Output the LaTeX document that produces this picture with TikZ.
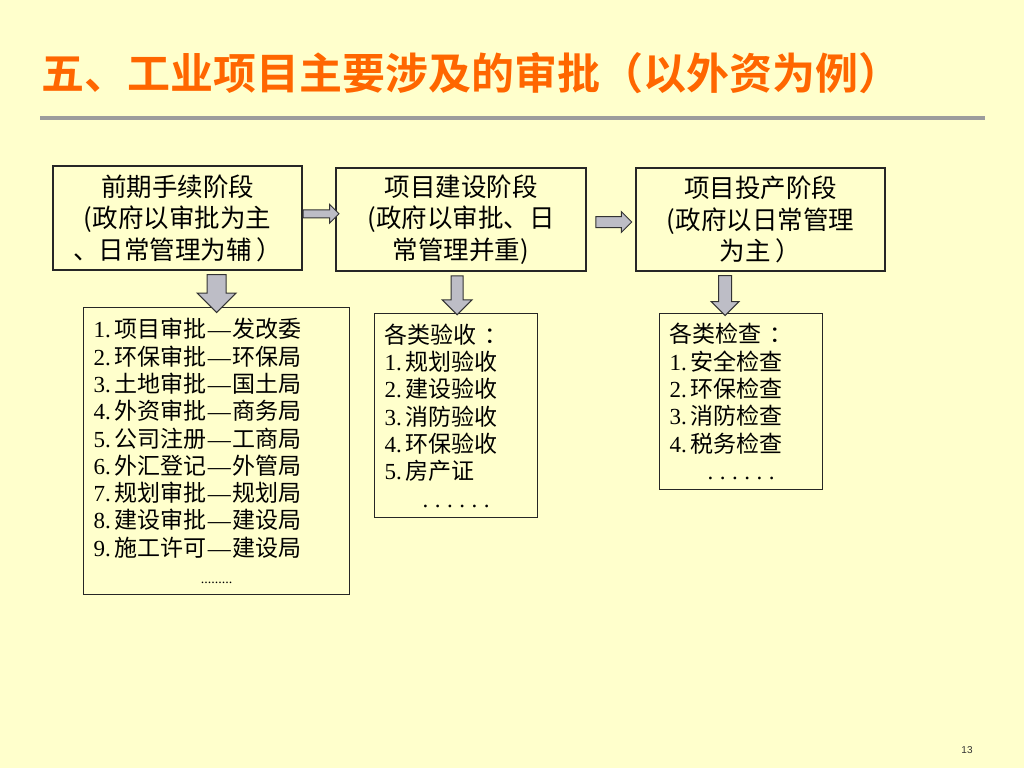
\documentclass[tikz,border=0pt]{standalone}
\usepackage{fontspec}
\setmainfont{Noto Sans CJK SC}
\newfontfamily\numfont{Liberation Serif}
\newfontfamily\titlefont{Noto Sans CJK SC Bold}
\newfontfamily\pagefont{Liberation Sans}
\usetikzlibrary{shapes.arrows,calc}

\definecolor{slidebg}{HTML}{FFFFCC}
\definecolor{titleorange}{HTML}{FF6600}
\definecolor{rulegray}{HTML}{9C9C9C}
\definecolor{arrowgray}{HTML}{BDBDC6}
\newcommand\lnum[1]{{\numfont #1.\kern4pt}}
\newcommand\ldash{{\numfont\kern1pt—\kern2pt}}
\newcommand\spaceddots{{\numfont .\kern6.5pt.\kern6.5pt.\kern6.5pt.\kern6.5pt.\kern6.5pt.}}

\tikzset{
  stage/.style={draw=black!85, line width=1.2pt, fill=slidebg, align=center,
    inner sep=0pt, font=\fontsize{25.5}{31.5}\selectfont},
  listbox/.style={draw=black!85, line width=1.2pt, fill=slidebg, anchor=north west,
    align=left, inner xsep=10pt, inner ysep=0pt, font=\fontsize{23}{27.3}\selectfont},
  blockarrow/.style={single arrow, draw=black!80, fill=arrowgray, line width=1pt,
    single arrow head indent=0pt},
}

\begin{document}
\begin{tikzpicture}[x=1pt,y=-1pt]
  \fill[slidebg] (0,0) rectangle (1024,768);
  \useasboundingbox (0,0) rectangle (1024,768);

  % title and rule
  \node[anchor=west, inner sep=0pt, text=titleorange, font=\titlefont\fontsize{43}{43}\selectfont]
    (title) at (41,73) {五、工业项目主要涉及的审批（以外资为例）};
  \draw[rulegray, line width=4pt] (40,118) -- (985,118);

  % three stages
  \node[stage, minimum width=249pt, minimum height=104pt] (pre) at (177.5,218)
    {前期手续阶段\\ (政府以审批为主\\、日常管理为辅\kern5pt）};
  \node[stage, minimum width=250pt, minimum height=103pt] (con) at (461,219.5)
    {项目建设阶段\\ (政府以审批、日\\常管理并重)};
  \node[stage, minimum width=249pt, minimum height=103pt] (opr) at (760.5,219.5)
    {项目投产阶段\\ (政府以日常管理\\为主\kern5pt）};

  % lists
  \node[listbox, text width=246pt, minimum width=266pt, minimum height=287pt] (apprv) at (83,307)
    {\lnum1项目审批\ldash 发改委\\ \lnum2环保审批\ldash 环保局\\ \lnum3土地审批\ldash 国土局\\
     \lnum4外资审批\ldash 商务局\\ \lnum5公司注册\ldash 工商局\\ \lnum6外汇登记\ldash 外管局\\
     \lnum7规划审批\ldash 规划局\\ \lnum8建设审批\ldash 建设局\\ \lnum9施工许可\ldash 建设局\\
     \makebox[\hsize]{\numfont\fontsize{14}{14}\selectfont .........}};
  \node[listbox, text width=143pt, minimum width=163pt, minimum height=204pt] (accept) at (374,313)
    {各类验收\kern8pt：\\ \lnum1规划验收\\ \lnum2建设验收\\ \lnum3消防验收\\
     \lnum4环保验收\\ \lnum5房产证\\ \makebox[\hsize]{\spaceddots}};
  \node[listbox, text width=143pt, minimum width=163pt, minimum height=176pt] (check) at (659,313)
    {各类检查\kern8pt：\\ \lnum1安全检查\\ \lnum2环保检查\\ \lnum3消防检查\\
     \lnum4税务检查\\ \makebox[\hsize]{\spaceddots}};

  % block arrows
  \node[blockarrow, inner sep=3.5pt, minimum height=36pt, single arrow head extend=5.5pt]
    (pre-con) at ($(pre.east)!.5!(con.west)+(0,-5)$) {};
  \node[blockarrow, inner sep=5pt, minimum height=36pt, single arrow head extend=5pt]
    (con-opr) at ($(con.east)!.5!(opr.west)+(0,2.5)$) {};
  \node[blockarrow, shape border rotate=270, inner sep=9pt, minimum height=38pt,
    single arrow head extend=10pt] (pre-apprv) at ($(pre.south -| apprv.north)!.5!(apprv.north)$) {};
  \node[blockarrow, shape border rotate=270, inner sep=5.5pt, minimum height=39pt,
    single arrow head extend=9pt] (con-accept) at ($(con.south -| accept.north)!.5!(accept.north)+(1,0)$) {};
  \node[blockarrow, shape border rotate=270, inner sep=6pt, minimum height=40pt,
    single arrow head extend=7.5pt] (opr-check) at ($(opr.south -| check.north)!.5!(check.north)+(-16,0)$) {};

  \node[font=\pagefont\fontsize{10}{10}\selectfont, text=black!80] (page) at (967,750) {13};
\end{tikzpicture}
\end{document}
